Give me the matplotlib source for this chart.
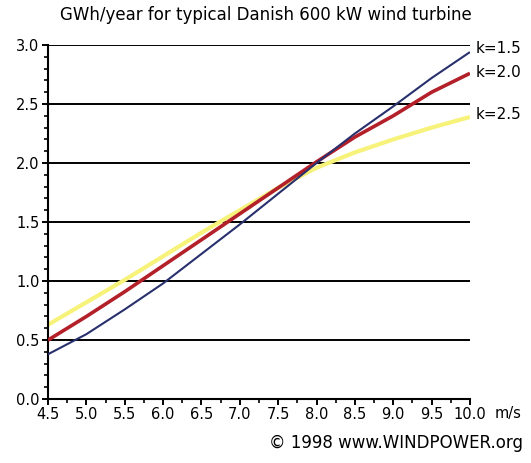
import matplotlib
matplotlib.use("Agg")
import matplotlib.pyplot as plt
from matplotlib.ticker import MultipleLocator, FormatStrFormatter

wind_speed = [4.5, 5.0, 5.5, 6.0, 6.5, 7.0, 7.5, 8.0, 8.5, 9.0, 9.5, 10.0]
k15 = [0.38, 0.55, 0.76, 0.98, 1.23, 1.48, 1.74, 2.00, 2.25, 2.48, 2.72, 2.94]
k20 = [0.50, 0.70, 0.91, 1.13, 1.35, 1.57, 1.79, 2.01, 2.22, 2.40, 2.60, 2.76]
k25 = [0.63, 0.82, 1.01, 1.21, 1.41, 1.60, 1.79, 1.96, 2.09, 2.20, 2.30, 2.39]
series_labels = ["k=1.5", "k=2.0", "k=2.5"]
label_y = [2.97, 2.77, 2.41]
title = "GWh/year for typical Danish 600 kW wind turbine"
credit = "\u00a9 1998 www.WINDPOWER.org"

fig = plt.figure(figsize=(5.31, 4.63), dpi=100)
ax = fig.add_axes([0.0904, 0.138, 0.885 - 0.0904, 0.9028 - 0.138])

for yv in [0.5, 1.0, 1.5, 2.0, 2.5, 3.0]:
    ax.axhline(yv, color="black", lw=1.4, zorder=1)

ax.plot(wind_speed, k25, color="#f7f27a", lw=3.0, zorder=2, solid_capstyle="butt")
ax.plot(wind_speed, k20, color="#b3202a", lw=2.6, zorder=3, solid_capstyle="butt")
ax.plot(wind_speed, k15, color="#28306e", lw=1.5, zorder=4, solid_capstyle="butt")

ax.set_xlim(4.5, 10.0)
ax.set_ylim(0.0, 3.0)
for s in ["top", "right"]:
    ax.spines[s].set_visible(False)
ax.spines["left"].set_linewidth(1.5)
ax.spines["bottom"].set_linewidth(1.5)

ax.xaxis.set_major_locator(MultipleLocator(0.5))
ax.xaxis.set_minor_locator(MultipleLocator(0.25))
ax.yaxis.set_major_locator(MultipleLocator(0.5))
ax.yaxis.set_minor_locator(MultipleLocator(0.1))
ax.xaxis.set_major_formatter(FormatStrFormatter("%.1f"))
ax.yaxis.set_major_formatter(FormatStrFormatter("%.1f"))
ax.tick_params(axis="both", which="major", length=4, width=1.4, labelsize=10.5, pad=2, colors="black")
ax.tick_params(axis="both", which="minor", length=3, width=1.2)

for lab, yv in zip(series_labels, label_y):
    ax.text(10.07, yv, lab, fontsize=11, va="center", ha="left", clip_on=False)

ax.text(10.32, -0.06, "m/s", fontsize=10.5, va="top", ha="left", clip_on=False)

fig.text(0.5, 0.967, title, fontsize=12, ha="center", va="center")
fig.text(0.985, 0.043, credit, fontsize=12, ha="right", va="center")

fig.savefig("out.png", dpi=100, facecolor="white")
